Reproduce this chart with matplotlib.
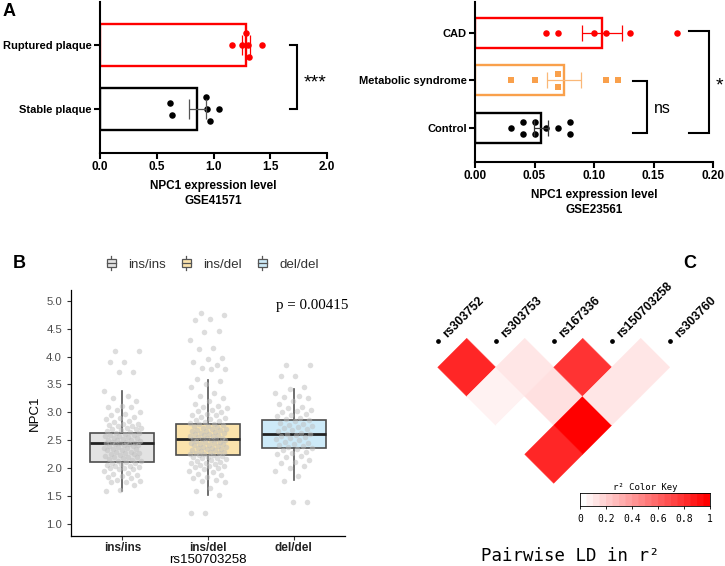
import numpy as np
import matplotlib.pyplot as plt
from matplotlib.patches import Polygon, Rectangle, Patch
from matplotlib.lines import Line2D
from matplotlib.colors import ListedColormap
from matplotlib.legend_handler import HandlerBase

plt.rcParams['font.family'] = ['Liberation Sans', 'DejaVu Sans']

W, H = 725, 566

# ---------- panel A: GSE41571
plaque_groups = ["Stable plaque", "Ruptured plaque"]
plaque_vals = [[0.62, 0.63, 0.93, 0.94, 0.97, 1.05],
               [1.16, 1.25, 1.29, 1.30, 1.31, 1.43]]

# ---------- panel A: GSE23561
gse_groups = ["Control", "Metabolic syndrome", "CAD"]
gse_vals = [[0.03, 0.04, 0.04, 0.05, 0.05, 0.06, 0.07, 0.08, 0.08],
            [0.03, 0.05, 0.07, 0.07, 0.11, 0.12],
            [0.06, 0.07, 0.10, 0.11, 0.13, 0.17]]

# ---------- panel B: NPC1 by rs150703258 genotype
genotypes = ["ins/ins", "ins/del", "del/del"]
box_q1 = [2.12, 2.24, 2.37]
box_med = [2.45, 2.52, 2.61]
box_q3 = [2.63, 2.80, 2.87]
box_lo = [1.60, 1.53, 1.79]
box_hi = [3.38, 3.58, 3.42]
p_text = "p = 0.00415"

ins_ins = [4.10, 4.10, 3.90, 3.90, 3.72, 3.72, 3.38, 3.30, 3.25, 3.20, 3.12, 3.10,
           3.10, 3.05, 3.00, 2.98, 2.95, 2.92, 2.90, 2.88, 2.85, 2.83, 2.80, 2.80,
           2.78, 2.76, 2.75, 2.73, 2.72, 2.70, 2.70, 2.68, 2.66, 2.65, 2.64, 2.63,
           2.62, 2.60, 2.60, 2.58, 2.57, 2.56, 2.55, 2.54, 2.52, 2.51, 2.50, 2.50,
           2.49, 2.48, 2.47, 2.46, 2.45, 2.45, 2.44, 2.43, 2.42, 2.41, 2.40, 2.40,
           2.38, 2.37, 2.36, 2.35, 2.34, 2.33, 2.32, 2.30, 2.30, 2.28, 2.27, 2.26,
           2.25, 2.24, 2.22, 2.21, 2.20, 2.20, 2.18, 2.16, 2.15, 2.14, 2.13, 2.12,
           2.10, 2.10, 2.08, 2.06, 2.05, 2.04, 2.02, 2.00, 2.00, 1.98, 1.98, 1.95,
           1.92, 1.90, 1.88, 1.86, 1.85, 1.83, 1.80, 1.78, 1.76, 1.75, 1.70, 1.62, 1.60]
ins_del = [4.77, 4.75, 4.68, 4.65, 4.45, 4.43, 4.30, 4.15, 4.13, 3.98, 3.95, 3.90,
           3.85, 3.80, 3.78, 3.78, 3.60, 3.57, 3.50, 3.45, 3.35, 3.30, 3.25, 3.20,
           3.15, 3.12, 3.10, 3.08, 3.05, 3.02, 3.00, 2.98, 2.96, 2.95, 2.92, 2.90,
           2.88, 2.86, 2.85, 2.83, 2.82, 2.80, 2.79, 2.78, 2.76, 2.75, 2.74, 2.72,
           2.71, 2.70, 2.69, 2.68, 2.67, 2.66, 2.65, 2.64, 2.63, 2.62, 2.61, 2.60,
           2.59, 2.58, 2.57, 2.56, 2.55, 2.54, 2.53, 2.52, 2.52, 2.51, 2.50, 2.49,
           2.48, 2.47, 2.46, 2.45, 2.44, 2.43, 2.42, 2.41, 2.40, 2.39, 2.38, 2.37,
           2.36, 2.35, 2.34, 2.33, 2.32, 2.31, 2.30, 2.29, 2.28, 2.27, 2.26, 2.25,
           2.24, 2.23, 2.22, 2.21, 2.20, 2.19, 2.18, 2.16, 2.15, 2.14, 2.12, 2.10,
           2.09, 2.08, 2.06, 2.05, 2.04, 2.02, 2.00, 1.98, 1.96, 1.93, 1.90, 1.88,
           1.85, 1.82, 1.80, 1.78, 1.75, 1.65, 1.60, 1.52, 1.20, 1.20]
del_del = [3.85, 3.85, 3.65, 3.65, 3.45, 3.42, 3.35, 3.30, 3.28, 3.25, 3.20, 3.15,
           3.10, 3.08, 3.05, 3.02, 3.00, 2.98, 2.95, 2.93, 2.90, 2.88, 2.86, 2.84,
           2.82, 2.80, 2.78, 2.76, 2.74, 2.72, 2.70, 2.68, 2.66, 2.64, 2.62, 2.61,
           2.60, 2.58, 2.56, 2.54, 2.52, 2.50, 2.48, 2.46, 2.44, 2.42, 2.40, 2.38,
           2.36, 2.34, 2.32, 2.30, 2.28, 2.25, 2.22, 2.20, 2.15, 2.12, 2.10, 2.05,
           2.00, 1.95, 1.87, 1.78, 1.40, 1.40]

# ---------- panel C: pairwise LD (r^2)
snps = ["rs303752", "rs303753", "rs167336", "rs150703258", "rs303760"]
nan = np.nan
ld_r2 = [[nan, 0.85, 0.05, 0.00, 0.85],
         [nan, nan, 0.10, 0.12, 1.00],
         [nan, nan, nan, 0.80, 0.10],
         [nan, nan, nan, nan, 0.10],
         [nan, nan, nan, nan, nan]]


fig = plt.figure(figsize=(W / 100, H / 100), dpi=100)


def px_axes(x0, y0, x1, y1):
    return fig.add_axes([x0 / W, 1 - y1 / H, (x1 - x0) / W, (y1 - y0) / H])


def swarm_offsets(vals, tol):
    # put near-equal values side by side (symmetric around the row)
    v = np.asarray(vals)
    order = np.argsort(v, kind="stable")
    off = np.zeros(len(v))
    cluster = [order[0]]
    for k in list(order[1:]) + [None]:
        if k is not None and v[k] - v[cluster[-1]] < tol:
            cluster.append(k)
            continue
        n = len(cluster)
        for j, idx in enumerate(cluster):
            off[idx] = -(j - (n - 1) / 2)
        if k is not None:
            cluster = [k]
    return off


def dot_bars(ax, vals, colors, ecolors, markers, bar_h, tol, step, capsize):
    for i, v in enumerate(vals):
        v = np.asarray(v)
        m = v.mean()
        sem = v.std(ddof=1) / np.sqrt(len(v))
        ax.barh(i, m, height=bar_h, color="white", edgecolor=colors[i], linewidth=1.7, zorder=1)
        ax.scatter(v, i + swarm_offsets(v, tol) * step, s=22, color=colors[i],
                   marker=markers[i], linewidths=0, zorder=2)
        ax.errorbar(m, i, xerr=sem, fmt="none", ecolor=ecolors[i], elinewidth=0.9,
                    capsize=capsize, capthick=0.9, zorder=3)


def style_bar_axes(ax, labels):
    for s in ["top", "right"]:
        ax.spines[s].set_visible(False)
    for s in ["left", "bottom"]:
        ax.spines[s].set_linewidth(1.5)
    ax.tick_params(direction="out", length=4, width=1.5, labelsize=8.5, pad=2)
    ax.set_yticks(range(len(labels)), labels, fontweight="bold", fontsize=8.0)
    for t in ax.get_xticklabels():
        t.set_fontweight("bold")


def bracket(ax, x0, x1, y0, y1):
    ax.plot([x0, x1, x1, x0], [y0, y0, y1, y1], color="black", lw=1.5,
            clip_on=False, solid_joinstyle="miter")


# ---------------- A left
ax1 = px_axes(100, 2, 327, 153)
dot_bars(ax1, plaque_vals, ["black", "#FF0000"], ["#555555", "#FF0000"], ["o", "o"],
         0.656, 0.035, 0.19, 7.5)
ax1.set_xlim(0, 2.0)
ax1.set_ylim(-0.6875, 1.67)
ax1.set_xticks([0, 0.5, 1.0, 1.5, 2.0], ["0.0", "0.5", "1.0", "1.5", "2.0"])
style_bar_axes(ax1, plaque_groups)
ax1.set_xlabel("NPC1 expression level\nGSE41571", fontweight="bold", fontsize=8.5,
               labelpad=5, linespacing=1.25)
bracket(ax1, 1.674, 1.736, 1.0, 0.0)
ax1.text(1.79, 0.40, "***", fontsize=14, va="center", ha="left")

# ---------------- A right
ax2 = px_axes(475, 2, 713, 162)
dot_bars(ax2, gse_vals, ["black", "#F9A04B", "#FF0000"], ["#333333", "#FAB878", "#FF0000"],
         ["o", "s", "o"], 0.63, 0.004, 0.27, 5.7)
ax2.set_xlim(0, 0.2)
ax2.set_ylim(-0.716, 2.65)
ax2.set_xticks([0, 0.05, 0.10, 0.15, 0.20], ["0.00", "0.05", "0.10", "0.15", "0.20"])
style_bar_axes(ax2, gse_groups)
ax2.set_xlabel("NPC1 expression level\nGSE23561", fontweight="bold", fontsize=8.5,
               labelpad=5, linespacing=1.25)
bracket(ax2, 0.1328, 0.1445, 0.985, -0.116)
ax2.text(0.150, 0.42, "ns", fontsize=11.5, va="center", ha="left")
bracket(ax2, 0.1798, 0.1966, 2.03, -0.11)
ax2.text(0.2025, 0.88, "*", fontsize=14, va="center", ha="left")

# ---------------- B box plot
box_fill = ["#E3E3E3", "#FBE3AC", "#CDEAF8"]
ax3 = px_axes(71, 290, 345, 536)
stats = [dict(med=box_med[i], q1=box_q1[i], q3=box_q3[i], whislo=box_lo[i],
              whishi=box_hi[i], fliers=[]) for i in range(3)]
bp = ax3.bxp(stats, positions=[1, 2, 3], widths=0.75, patch_artist=True, showcaps=False,
             boxprops=dict(edgecolor="#4D4D4D", linewidth=1.2),
             whiskerprops=dict(color="#555555", linewidth=1.2),
             medianprops=dict(color="#222222", linewidth=2.0), zorder=1)
for patch, c in zip(bp["boxes"], box_fill):
    patch.set_facecolor(c)
for i, vals in enumerate([ins_ins, ins_del, del_del]):
    n = len(vals)
    jit = ((np.arange(n) * 0.618034 + 0.31) % 1 - 0.5) * 0.44
    ax3.scatter(i + 1 + jit, vals, s=16, color="#BDBDBD", alpha=0.5, linewidths=0, zorder=3)
ax3.set_xlim(0.4, 3.6)
ax3.set_ylim(0.79, 5.19)
ax3.set_yticks(np.arange(1.0, 5.01, 0.5), [f"{t:.1f}" for t in np.arange(1.0, 5.01, 0.5)])
ax3.set_xticks([1, 2, 3], genotypes, fontweight="bold", fontsize=8.5)
ax3.tick_params(axis="y", labelsize=8.2, labelcolor="#4D4D4D", length=3, width=0.8, color="#333333")
ax3.tick_params(axis="x", length=3, width=0.8, color="#333333", labelcolor="#222222", pad=1.5)
for s in ["top", "right"]:
    ax3.spines[s].set_visible(False)
for s in ["left", "bottom"]:
    ax3.spines[s].set_linewidth(0.9)
ax3.set_ylabel("NPC1", fontsize=9.5, labelpad=4)
ax3.set_xlabel("rs150703258", fontsize=9.5, labelpad=0)
ax3.text(3.64, 4.92, p_text, family="Liberation Serif", fontsize=10.8, ha="right", va="center",
         clip_on=False)


class BoxHandler(HandlerBase):
    def create_artists(self, legend, orig_handle, xdescent, ydescent, width, height, fontsize, trans):
        x0, y0 = -xdescent, -ydescent
        bw = width * 0.8
        bx = x0 + (width - bw) / 2
        rect = Rectangle((bx, y0 + height * 0.12), bw, height * 0.76, facecolor=orig_handle.get_facecolor(),
                         edgecolor="#555555", linewidth=0.9, transform=trans)
        whisk = Line2D([x0 + width / 2] * 2, [y0 - height * 0.12, y0 + height * 1.12], color="#555555",
                       linewidth=0.9, transform=trans)
        med = Line2D([bx, bx + bw], [y0 + height / 2] * 2, color="#555555", linewidth=0.9, transform=trans)
        return [whisk, rect, med]


handles = [Patch(facecolor=c) for c in box_fill]
fig.legend(handles, genotypes, handler_map={Patch: BoxHandler()}, loc="center",
           bbox_to_anchor=(212 / W, 1 - 264 / H), ncol=3, frameon=False, fontsize=9.6,
           handlelength=0.9, handleheight=0.9, handletextpad=0.8, columnspacing=1.1,
           labelcolor="#333333")

# ---------------- C LD heatmap
ax4 = px_axes(380, 280, 725, 500)
ax4.set_xlim(-0.995, 4.953)
ax4.set_ylim(-2.788, 1.005)
ax4.axis("off")
n_snp = len(snps)
for i in range(n_snp):
    for j in range(i + 1, n_snp):
        r2 = ld_r2[i][j]
        col = (1.0, 1.0 - r2, 1.0 - r2)
        cx, cy = (i + j) / 2, -(j - i) / 2
        ax4.add_patch(Polygon([(cx, cy + 0.5), (cx + 0.5, cy), (cx, cy - 0.5), (cx - 0.5, cy)],
                              closed=True, facecolor=col, edgecolor=col, linewidth=0.3))
for i, name in enumerate(snps):
    ax4.plot(i, -0.04, "o", color="black", markersize=2.4)
    ax4.text(i + 0.16, 0.0, name, rotation=45, rotation_mode="anchor", ha="left", va="baseline",
             fontsize=8.8, fontweight="bold")

# colour key
ax5 = px_axes(580, 493, 710, 506)
key = ListedColormap([(1.0, 1.0 - v, 1.0 - v) for v in np.linspace(0, 1, 20)])
ax5.imshow(np.linspace(0, 1, 200)[None, :], cmap=key, aspect="auto", extent=[0, 1, 0, 1])
ax5.set_yticks([])
ax5.set_xticks(np.linspace(0, 1, 6), ["0", "0.2", "0.4", "0.6", "0.8", "1"],
               family="DejaVu Sans Mono", fontsize=7)
ax5.tick_params(axis="x", length=2.5, width=0.6, pad=3.5)
for s in ax5.spines.values():
    s.set_linewidth(0.6)
ax5.set_title("r² Color Key", family="DejaVu Sans Mono", fontsize=6.5, pad=2.5)
fig.text(570 / W, 1 - 556 / H, "Pairwise LD in r²", family="DejaVu Sans Mono", fontsize=12.5,
         ha="center", va="center")

# panel letters
fig.text(9 / W, 1 - 11 / H, "A", fontsize=13, fontweight="bold", ha="center", va="center")
fig.text(19 / W, 1 - 264 / H, "B", fontsize=13, fontweight="bold", ha="center", va="center")
fig.text(690 / W, 1 - 264 / H, "C", fontsize=13, fontweight="bold", ha="center", va="center")

fig.savefig("out.png", dpi=100)
